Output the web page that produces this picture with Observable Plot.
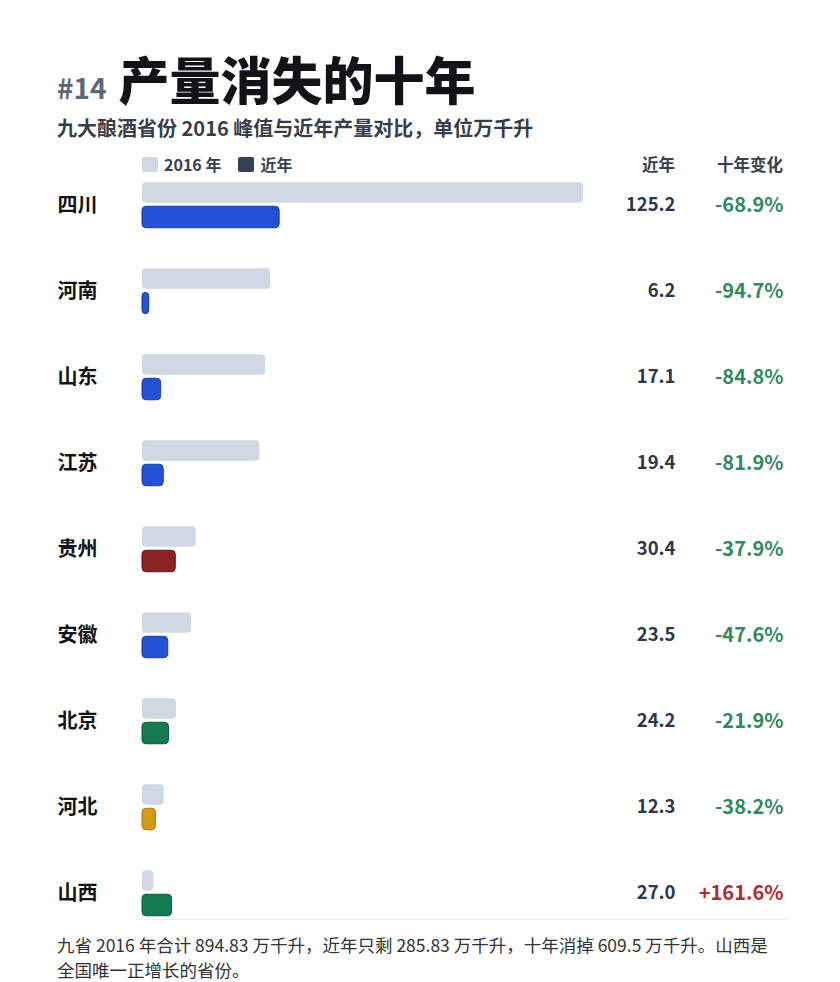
<!DOCTYPE html>
<html>
<head>
<meta charset="utf-8">
<script src="https://cdn.jsdelivr.net/npm/d3@7"></script>
<script src="https://cdn.jsdelivr.net/npm/@observablehq/plot@0.6"></script>
<style>
  html, body { margin: 0; padding: 0; background: #fff; }
  body { width: 840px; height: 982px; position: relative; overflow: hidden;
         font-family: "Noto Sans CJK SC", "Noto Sans", sans-serif; }
  .abs { position: absolute; white-space: nowrap; }
  #title { left: 57px; top: 53px; line-height: 51px; }
  #title .num { font-size: 28px; font-weight: 700; color: #5d6779; margin-right: 12px; position: relative; top: -1px; }
  #title .main { font-size: 51px; font-weight: 900; color: #111318; }
  #subtitle { left: 57px; top: 116px; font-size: 20px; line-height: 24px; font-weight: 700; color: #383e48; }
  #legend { left: 142px; top: 154px; height: 20px; line-height: 20px; font-size: 16px; font-weight: 600; color: #374151; display: flex; align-items: center; }
  #legend .sw { width: 16px; height: 15px; border-radius: 2px; display: inline-block; margin-right: 6px; }
  .hdr { top: 154px; line-height: 20px; font-size: 16.5px; font-weight: 600; color: #374151; text-align: right; }
  #chart { left: 0; top: 150px; }
  #footer { left: 57px; top: 932px; font-size: 17.5px; line-height: 25px; color: #333; }
</style>
</head>
<body>
<div id="title" class="abs"><span class="num">#14</span><span class="main">产量消失的十年</span></div>
<div id="subtitle" class="abs">九大酿酒省份 2016 峰值与近年产量对比，单位万千升</div>
<div id="chart" class="abs"></div>
<div id="legend" class="abs"></div>
<div class="abs hdr" id="h1" style="right:165px;">近年</div>
<div class="abs hdr" id="h2" style="right:57px;">十年变化</div>
<div id="footer" class="abs">九省 2016 年合计 894.83 万千升，近年只剩 285.83 万千升，十年消掉 609.5 万千升。山西是<br>全国唯一正增长的省份。</div>
<script>
const provinces = ["四川", "河南", "山东", "江苏", "贵州", "安徽", "北京", "河北", "山西"];
const peak2016 = [402.6, 117.0, 112.5, 107.2, 49.0, 44.8, 31.0, 19.9, 10.3];
const recent = [125.2, 6.2, 17.1, 19.4, 30.4, 23.5, 24.2, 12.3, 27.0];
const change = [-68.9, -94.7, -84.8, -81.9, -37.9, -47.6, -21.9, -38.2, 161.6];
const seriesNames = ["2016 年", "近年"];

const barFill = ["#2452d6", "#2452d6", "#2452d6", "#2452d6", "#8b2323", "#2452d6", "#157a52", "#d39a14", "#157a52"];
const barStroke = ["#1b3a9e", "#1b3a9e", "#1b3a9e", "#1b3a9e", "#5e1717", "#1b3a9e", "#0e5a3b", "#a87a0c", "#0e5a3b"];

const rows = provinces.map((p, i) => ({
  province: p, peak: peak2016[i], recent: recent[i], change: change[i],
  fill: barFill[i], stroke: barStroke[i]
}));

// legend
const legend = document.getElementById("legend");
const legendColors = ["#cfd8e3", "#334155"];
seriesNames.forEach((name, i) => {
  const sw = document.createElement("span");
  sw.className = "sw";
  sw.style.background = legendColors[i];
  const t = document.createElement("span");
  t.textContent = name;
  t.style.marginRight = i === 0 ? "17px" : "0";
  legend.appendChild(sw);
  legend.appendChild(t);
});

const font = '"Noto Sans CJK SC", "Noto Sans", sans-serif';
const chart = Plot.plot({
  width: 840,
  height: 790,
  marginLeft: 142,
  marginRight: 55,
  marginTop: 0,
  marginBottom: 21,
  x: { domain: [0, d3.max(peak2016)], range: [142, 583], axis: null },
  y: { domain: provinces, range: [9.75, 788.25], padding: 0, axis: null },
  style: { background: "transparent", overflow: "visible", fontFamily: font },
  marks: [
    Plot.frame({ anchor: "bottom", stroke: "#eceef2" }),
    Plot.barX(rows, { y: "province", x: "peak", fill: "#cfd8e3", insetTop: 20.25, insetBottom: 45.25, rx: 4 }),
    Plot.barX(rows, { y: "province", x: "recent", fill: "fill", stroke: "stroke", strokeWidth: 1, insetTop: 44.25, insetBottom: 20.25, rx: 4 }),
    Plot.text(rows, { y: "province", text: "province", frameAnchor: "left", dx: -85, textAnchor: "start",
      fontSize: 20, fontWeight: 700, fill: "#111318" }),
    Plot.text(rows, { y: "province", text: d => d.recent.toFixed(1), frameAnchor: "right", dx: -110, textAnchor: "end",
      fontSize: 18.5, fontWeight: 600, fill: "#2d3748" }),
    Plot.text(rows.filter(d => d.change < 0), { y: "province", text: d => d.change.toFixed(1) + "%", frameAnchor: "right", dx: -2, textAnchor: "end",
      fontSize: 20, fontWeight: 700, fill: "#2f8a5c" }),
    Plot.text(rows.filter(d => d.change >= 0), { y: "province", text: d => "+" + d.change.toFixed(1) + "%", frameAnchor: "right", dx: -2, textAnchor: "end",
      fontSize: 20, fontWeight: 700, fill: "#b32b2b" })
  ]
});
document.getElementById("chart").appendChild(chart);
</script>
</body>
</html>
